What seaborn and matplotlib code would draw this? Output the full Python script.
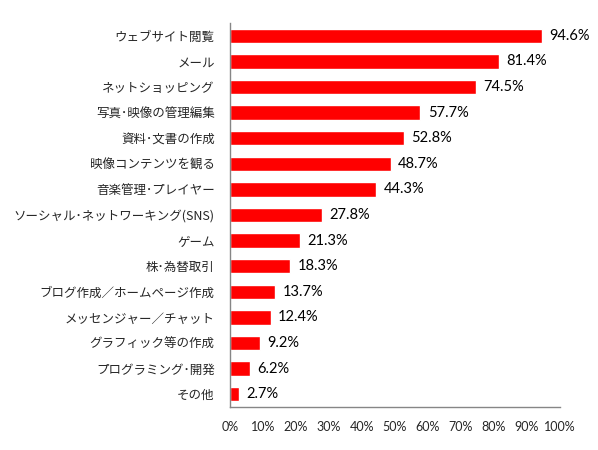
import matplotlib
matplotlib.use("Agg")
import matplotlib.pyplot as plt
import seaborn as sns
import pandas as pd

categories = ["ウェブサイト閲覧", "メール", "ネットショッピング", "写真･映像の管理編集",
              "資料･文書の作成", "映像コンテンツを観る", "音楽管理･プレイヤー",
              "ソーシャル･ネットワーキング(SNS)", "ゲーム", "株･為替取引",
              "ブログ作成／ホームページ作成", "メッセンジャー／チャット",
              "グラフィック等の作成", "プログラミング･開発", "その他"]
values = [94.6, 81.4, 74.5, 57.7, 52.8, 48.7, 44.3, 27.8, 21.3, 18.3, 13.7, 12.4, 9.2, 6.2, 2.7]
ticks = [0, 10, 20, 30, 40, 50, 60, 70, 80, 90, 100]

sns.set_theme(style="white")
plt.rcParams['font.family'] = ['Noto Sans CJK JP', 'DejaVu Sans']

df = pd.DataFrame({"cat": categories, "val": values})

fig = plt.figure(figsize=(5.98, 4.5), dpi=100)
ax = fig.add_axes([230/598, 1-407/450, 330/598, 384/450])
sns.barplot(data=df, x="val", y="cat", color="#FF0000", saturation=1, width=0.56, ax=ax, orient="h")

ax.set_xlim(0, 100)
ax.set_ylim(14.5, -0.5)
ax.set_xticks(ticks)
ax.set_xticklabels([f"{t}%" for t in ticks], fontsize=9, family=['Lato', 'DejaVu Sans'])
ax.tick_params(axis='x', length=0, pad=10)
ax.tick_params(axis='y', length=0, pad=11, labelsize=9)
ax.set_xlabel("")
ax.set_ylabel("")
for s in ["top", "right"]:
    ax.spines[s].set_visible(False)
for s in ["left", "bottom"]:
    ax.spines[s].set_color("#868686")
    ax.spines[s].set_linewidth(1)

for i, v in enumerate(values):
    ax.text(v + 2.2, i, f"{v}%", va="center", ha="left", fontsize=10.5,
            family=['Lato', 'DejaVu Sans'], color="black")

fig.savefig("out.png", dpi=100)
